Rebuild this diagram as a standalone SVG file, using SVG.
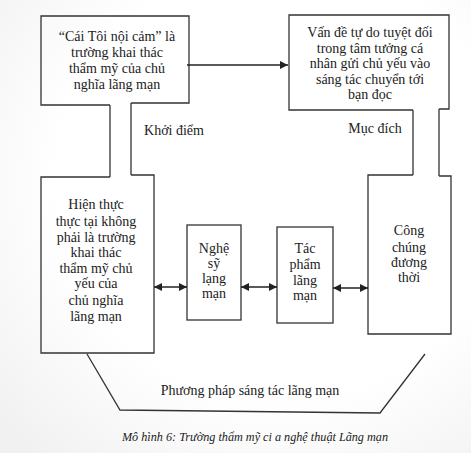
<svg xmlns="http://www.w3.org/2000/svg" width="471" height="453" viewBox="0 0 471 453">
<defs>
<radialGradient id="bg" cx="0.6" cy="0.4" r="0.8">
<stop offset="0.6" stop-color="#ffffff"/>
<stop offset="1" stop-color="#f1f1f1"/>
</radialGradient>
<marker id="ah" viewBox="0 0 10 10" refX="10" refY="5" markerWidth="8" markerHeight="8" markerUnits="userSpaceOnUse" orient="auto-start-reverse">
<path d="M0,0 L10,5 L0,10 Z" fill="#222"/>
</marker>
</defs>
<style>
.ln{fill:none;stroke:#333;stroke-width:1.3}
.t{font-family:"Liberation Serif","Times New Roman",serif;font-size:14px;fill:#222;text-anchor:middle}
.cap{font-family:"Liberation Serif","Times New Roman",serif;font-size:12.2px;font-style:italic;fill:#222;text-anchor:middle}
.ar{fill:none;stroke:#222;stroke-width:1.3;marker-end:url(#ah)}
.ar2{fill:none;stroke:#222;stroke-width:1.3;marker-start:url(#ah);marker-end:url(#ah)}
</style>
<rect width="471" height="453" fill="url(#bg)"/>

<g id="node-cai-toi">
<path class="ln" d="M110,105 L41,105 L41,16 L189,16 L189,103 L131,103"/>
<text class="t" x="117" y="41">“Cái Tôi nội cảm” là</text>
<text class="t" x="117" y="57">trường khai thác</text>
<text class="t" x="117" y="73">thẩm mỹ của chủ</text>
<text class="t" x="117" y="89">nghĩa lãng mạn</text>
</g>

<g id="node-van-de">
<path class="ln" d="M413,110 L289,110 L289,15 L449,15 L449,109 L439,109"/>
<text class="t" x="370" y="37">Vấn đề tự do tuyệt đối</text>
<text class="t" x="370" y="53">trong tâm tưởng cá</text>
<text class="t" x="370" y="68">nhân gửi chủ yếu vào</text>
<text class="t" x="370" y="84">sáng tác chuyển tới</text>
<text class="t" x="370" y="99">bạn đọc</text>
</g>

<g id="node-hien-thuc">
<path class="ln" d="M110,177 L41,177 L41,353 L154,353 L154,175 L131,175"/>
<text class="t" x="96" y="209">Hiện thực</text>
<text class="t" x="96" y="226">thực tại không</text>
<text class="t" x="96" y="242">phải là trường</text>
<text class="t" x="96" y="257">khai thác</text>
<text class="t" x="96" y="273">thẩm mỹ chủ</text>
<text class="t" x="96" y="288">yếu của</text>
<text class="t" x="96" y="305">chủ nghĩa</text>
<text class="t" x="96" y="321">lãng mạn</text>
</g>

<g id="node-nghe-sy">
<rect class="ln" x="187" y="225" width="54" height="95"/>
<text class="t" x="214" y="253">Nghệ</text>
<text class="t" x="214" y="268">sỹ</text>
<text class="t" x="214" y="283">lạng</text>
<text class="t" x="214" y="298">mạn</text>
</g>

<g id="node-tac-pham">
<rect class="ln" x="277" y="227" width="56" height="96"/>
<text class="t" x="305" y="253">Tác</text>
<text class="t" x="305" y="269">phẩm</text>
<text class="t" x="305" y="285">lãng</text>
<text class="t" x="305" y="300">mạn</text>
</g>

<g id="node-cong-chung">
<path class="ln" d="M413,175 L368,175 L368,334 L451,334 L451,176 L439,176"/>
<text class="t" x="409" y="235">Công</text>
<text class="t" x="409" y="252">chúng</text>
<text class="t" x="409" y="267">đương</text>
<text class="t" x="409" y="282">thời</text>
</g>

<g id="connectors">
<path class="ln" d="M110,105 L110,177 M131,103 L131,175"/>
<path class="ln" d="M413,110 L413,175 M439,109 L439,176"/>
<path class="ar" d="M187,65 L288,65"/>
<path class="ar2" d="M154,287 L187,287"/>
<path class="ar2" d="M241,287 L277,287"/>
<path class="ar2" d="M333,288 L368,288"/>
<path class="ln" d="M87,354 L120,410 L380,413 L425,354"/>
<text class="t" x="174" y="135">Khởi điểm</text>
<text class="t" x="375" y="133">Mục đích</text>
<text class="t" x="250" y="395">Phương pháp sáng tác lãng mạn</text>
</g>

<text class="cap" x="255" y="441">Mô hình 6: Trường thẩm mỹ ci a nghệ  thuật Lãng mạn</text>
</svg>
